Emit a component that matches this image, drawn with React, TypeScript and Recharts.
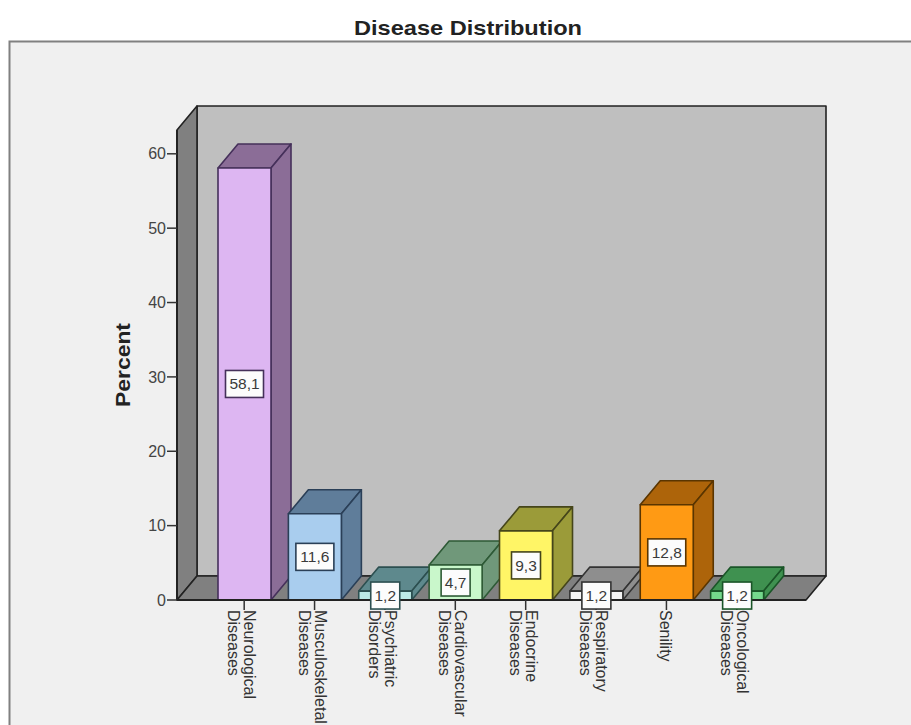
import React from 'react';
import { BarChart, Bar, XAxis, YAxis, ReferenceArea, LabelList } from 'recharts';

const categories = [
  'Neurological Diseases',
  'Musculoskeletal Diseases',
  'Psychiatric Disorders',
  'Cardiovascular Diseases',
  'Endocrine Diseases',
  'Respiratory Diseases',
  'Senility',
  'Oncological Diseases',
];
const percents = [58.1, 11.6, 1.2, 4.7, 9.3, 1.2, 12.8, 1.2];
const frontColors = ['#DDB6F2', '#A9CDEE', '#BCE9E6', '#C9F7CB', '#FFF566', '#F4F4F4', '#FF9A14', '#74D88C'];
const sideColors = ['#8B6D97', '#5F7D9A', '#5E898D', '#70987A', '#9B9B39', '#8E8E8E', '#AD640A', '#3F9150'];
const edgeColors = ['#45305A', '#2A3F57', '#2C4F50', '#2E5A36', '#45451A', '#333333', '#5A3500', '#1A5528'];
const yTicks = [0, 10, 20, 30, 40, 50, 60];
const yMax = 63.2;

const rows = categories.map((name, i) => ({ name, percent: percents[i] }));

const DX = 20;
const DY = 24;
const PAD_LEFT = 32;
const PAD_RIGHT = 34;
const FONT = '"Liberation Sans", Arial, sans-serif';
const pts = (p: number[][]) => p.map((q) => q.join(',')).join(' ');

const Walls = ({ x: bandX, y, width: bandW, height }: any) => {
  const x = bandX - PAD_LEFT;
  const width = bandW + PAD_LEFT + PAD_RIGHT;
  const b = y + height;
  const r = x + width;
  return (
    <g stroke="#222" strokeWidth={1.6} strokeLinejoin="round">
      <rect x={x + DX} y={y - DY} width={width} height={height} fill="#BFBFBF" />
      <polygon points={pts([[x, y], [x + DX, y - DY], [x + DX, b - DY], [x, b]])} fill="#808080" />
      <polygon points={pts([[x, b], [x + DX, b - DY], [r + DX, b - DY], [r, b]])} fill="#808080" />
    </g>
  );
};

const Box3D = ({ x, y, width, height, index }: any) => {
  const r = x + width;
  const b = y + height;
  const edge = edgeColors[index];
  return (
    <g stroke={edge} strokeWidth={1.6} strokeLinejoin="round">
      <polygon points={pts([[x, y], [x + DX, y - DY], [r + DX, y - DY], [r, y]])} fill={sideColors[index]} />
      <polygon points={pts([[r, y], [r + DX, y - DY], [r + DX, b - DY], [r, b]])} fill={sideColors[index]} />
      <rect x={x} y={y} width={width} height={height} fill={frontColors[index]} />
    </g>
  );
};

const ValueBox = ({ x, y, width, height, value, index }: any) => {
  const text = String(value).replace('.', ',');
  const w = text.length > 3 ? 38 : 29;
  const h = 27;
  const cx = x + width / 2;
  const cy = y + height / 2;
  return (
    <g>
      <rect x={cx - w / 2} y={cy - h / 2} width={w} height={h} fill="#FCFCFC" stroke={edgeColors[index]} strokeWidth={1.6} />
      <text x={cx} y={cy + 5.5} textAnchor="middle" fontFamily={FONT} fontSize={15.5} fill="#3A3A3A">
        {text}
      </text>
    </g>
  );
};

const CategoryTick = ({ x, y, payload }: any) => {
  const lines = String(payload.value).split(' ');
  const first = lines.length > 1 ? 0 : 6;
  return (
    <g transform={`translate(${x},${y}) rotate(90)`}>
      {lines.map((line, i) => (
        <text key={line} x={0} y={first + i * 16} fontFamily={FONT} fontSize={16} fill="#333">
          {line}
        </text>
      ))}
    </g>
  );
};

export default function App() {
  return (
    <div style={{ position: 'absolute', left: 0, top: 0, width: 911, height: 725, background: '#fff', overflow: 'hidden' }}>
      <svg width={911} height={725} style={{ position: 'absolute', left: 0, top: 0 }}>
        <rect x={9.5} y={41.5} width={920} height={720} fill="#F0F0F0" stroke="#808080" strokeWidth={2} />
        <text x={354} y={35} fontFamily={FONT} fontSize={21} fontWeight="bold" fill="#222" textLength={228} lengthAdjust="spacingAndGlyphs">
          Disease Distribution
        </text>
        <text
          transform="translate(130,407) rotate(-90)"
          fontFamily={FONT}
          fontSize={21}
          fontWeight="bold"
          fill="#222"
          textLength={84}
          lengthAdjust="spacingAndGlyphs"
        >
          Percent
        </text>
      </svg>
      <div style={{ position: 'absolute', left: 0, top: 0 }}>
        <BarChart
          width={911}
          height={725}
          data={rows}
          margin={{ top: 130, right: 105, bottom: 0, left: 117 }}
          barCategoryGap={0}
        >
          <ReferenceArea y1={0} y2={yMax} shape={<Walls />} />
          <XAxis
            dataKey="name"
            interval={0}
            height={125}
            padding={{ left: PAD_LEFT, right: PAD_RIGHT }}
            tickSize={10}
            tickMargin={0}
            tick={<CategoryTick />}
            axisLine={{ stroke: '#222', strokeWidth: 2 }}
            tickLine={{ stroke: '#333', strokeWidth: 1.5 }}
          />
          <YAxis
            type="number"
            domain={[0, yMax]}
            ticks={yTicks}
            width={60}
            tickSize={10}
            tickMargin={1}
            tick={{ fontFamily: FONT, fontSize: 16, fill: '#444' }}
            axisLine={{ stroke: '#222', strokeWidth: 2 }}
            tickLine={{ stroke: '#333', strokeWidth: 1.5 }}
          />
          <Bar dataKey="percent" barSize={53} isAnimationActive={false} shape={(p: any) => <Box3D {...p} />}>
            <LabelList dataKey="percent" content={(p: any) => <ValueBox {...p} />} />
          </Bar>
        </BarChart>
      </div>
    </div>
  );
}
